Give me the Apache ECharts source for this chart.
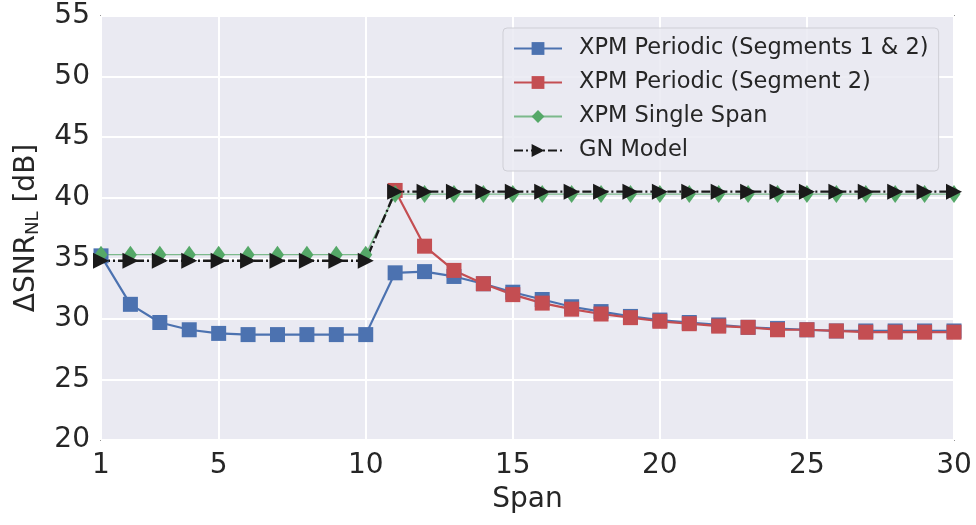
<!DOCTYPE html>
<html>
<head>
<meta charset="utf-8">
<script src="https://cdn.jsdelivr.net/npm/echarts@6/dist/echarts.min.js"></script>
<style>
  html, body { margin: 0; padding: 0; background: #fff; }
  #chart { width: 976px; height: 525px; }
</style>
</head>
<body>
<div id="chart"></div>
<script>
// spans 1..30
const spans = [1, 2, 3, 4, 5, 6, 7, 8, 9, 10, 11, 12, 13, 14, 15, 16, 17, 18, 19, 20,
  21, 22, 23, 24, 25, 26, 27, 28, 29, 30]
const xTicks = [1, 5, 10, 15, 20, 25, 30]

const xpmSeg12 = [35.2, 31.2, 29.7, 29.1, 28.8, 28.7, 28.7, 28.7, 28.7, 28.7,
  33.8, 33.9, 33.5, 32.9, 32.2, 31.6, 31.0, 30.6, 30.2, 29.9,
  29.7, 29.5, 29.3, 29.2, 29.1, 29.0, 29.0, 29.0, 29.0, 29.0]
const xpmSeg2 = [null, null, null, null, null, null, null, null, null, null,
  40.6, 36.0, 34.0, 32.9, 32.0, 31.3, 30.8, 30.4, 30.1, 29.8,
  29.6, 29.4, 29.3, 29.1, 29.1, 29.0, 28.9, 28.9, 28.9, 28.9]
const xpmSingle = [35.3, 35.3, 35.3, 35.3, 35.3, 35.3, 35.3, 35.3, 35.3, 35.3,
  40.3, 40.3, 40.3, 40.3, 40.3, 40.3, 40.3, 40.3, 40.3, 40.3,
  40.3, 40.3, 40.3, 40.3, 40.3, 40.3, 40.3, 40.3, 40.3, 40.3]
const gnModel = [34.8, 34.8, 34.8, 34.8, 34.8, 34.8, 34.8, 34.8, 34.8, 34.8,
  40.5, 40.5, 40.5, 40.5, 40.5, 40.5, 40.5, 40.5, 40.5, 40.5,
  40.5, 40.5, 40.5, 40.5, 40.5, 40.5, 40.5, 40.5, 40.5, 40.5]

const pairs = vals => spans.map((s, i) => [s, vals[i]])
const textColor = '#262626'
const font = 'DejaVu Sans'

const chart = echarts.init(document.getElementById('chart'))
chart.setOption({
  animation: false,
  textStyle: { fontFamily: font },
  grid: {
    left: 101, right: 22, top: 16, bottom: 85,
    show: true,
    backgroundColor: '#EAEAF2',
    borderColor: '#262626',
    borderWidth: 1.3
  },
  legend: {
    left: 503,
    top: 28,
    orient: 'vertical',
    padding: [8, 10, 8, 10],
    itemWidth: 48,
    itemHeight: 16,
    itemGap: 9,
    backgroundColor: 'rgba(234,234,242,0.85)',
    borderColor: '#cfcfd6',
    borderWidth: 1,
    borderRadius: 4,
    textStyle: { fontSize: 22.5, color: textColor, fontFamily: font, lineHeight: 25, padding: [0, 0, 0, 12] },
    data: ['XPM Periodic (Segments 1 & 2)', 'XPM Periodic (Segment 2)', 'XPM Single Span', 'GN Model']
  },
  xAxis: {
    type: 'value',
    min: 1,
    max: 30,
    name: 'Span',
    nameLocation: 'middle',
    nameGap: 46,
    nameTextStyle: { fontSize: 28, color: textColor, fontFamily: font },
    axisLine: { show: false },
    axisTick: { show: false, customValues: xTicks },
    axisLabel: { customValues: xTicks, fontSize: 28, color: textColor, margin: 12, fontFamily: font },
    splitLine: { show: true, lineStyle: { color: '#ffffff', width: 2 } }
  },
  yAxis: {
    type: 'value',
    min: 20,
    max: 55,
    interval: 5,
    name: '{m|ΔSNR}{s|NL}{m| [dB]}',
    nameLocation: 'middle',
    nameGap: 59,
    nameTextStyle: {
      color: textColor,
      fontFamily: font,
      rich: {
        m: { fontSize: 28, color: textColor, fontFamily: font },
        s: { fontSize: 18, color: textColor, fontFamily: font, verticalAlign: 'bottom', padding: [12, 0, 0, 0] }
      }
    },
    axisLine: { show: false },
    axisTick: { show: false },
    axisLabel: { fontSize: 28, color: textColor, margin: 11, fontFamily: font },
    splitLine: { show: true, lineStyle: { color: '#ffffff', width: 2 } }
  },
  series: [
    {
      name: 'XPM Periodic (Segments 1 & 2)',
      type: 'line',
      data: pairs(xpmSeg12),
      color: '#4C72B0',
      symbol: 'rect',
      symbolSize: 15,
      lineStyle: { width: 2.2 },
      clip: true
    },
    {
      name: 'XPM Periodic (Segment 2)',
      type: 'line',
      data: pairs(xpmSeg2),
      color: '#C44E52',
      symbol: 'rect',
      symbolSize: 15,
      lineStyle: { width: 2.2 },
      clip: true
    },
    {
      name: 'XPM Single Span',
      type: 'line',
      data: pairs(xpmSingle),
      color: '#55A868',
      symbol: 'diamond',
      symbolSize: [13, 18],
      lineStyle: { width: 1.4, opacity: 0.75 },
      clip: true
    },
    {
      name: 'GN Model',
      type: 'line',
      data: pairs(gnModel),
      color: '#1a1a1a',
      symbol: 'triangle',
      symbolRotate: -90,
      symbolSize: 16,
      lineStyle: { width: 2.4, type: [9, 3, 2, 3] },
      clip: true
    }
  ]
})
</script>
</body>
</html>
